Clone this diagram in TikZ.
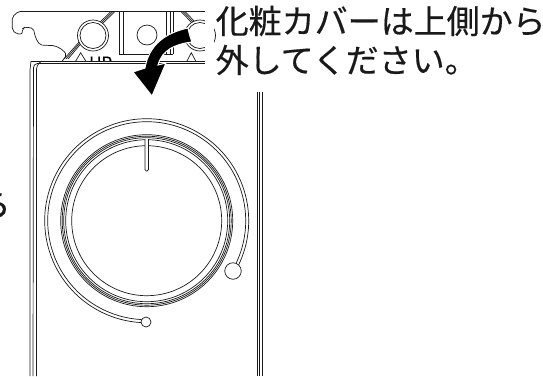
\documentclass[tikz,border=0pt]{standalone}
\usepackage{fontspec}
\setmainfont[FakeBold=0.4]{Noto Sans CJK JP}
\usetikzlibrary{calc}
\usetikzlibrary{positioning}
\begin{document}
\begin{tikzpicture}[x=1pt,y=-1pt]
\tikzstyle{thin part}=[line width=0.7pt,draw=black!90]
\tikzstyle{note}=[inner sep=0pt,anchor=west,font=\fontsize{33}{33}\selectfont,text=black!90]
\useasboundingbox (0,0) rectangle (543,376);
\draw[thin part,rounded corners=2pt] (205,11.5) -- (18.3,11.5) -- (12.3,17) -- (12.3,30) -- (16.7,34) -- (22.3,34) -- (22.3,29) -- (25,27) -- (33.3,28.3) -- (35.7,38.3) -- (40,45) -- (55,45.7) -- (63,50) -- (66.7,55) -- (62.3,61);
\foreach \s in {0,2,4} {
  \draw[thin part] (64+\s,59) -- (80+\s,41-\s/4);
  \draw[thin part] (98+\s,24) -- (111+\s,11.5);
  \draw[thin part] (181+\s,11.5) -- (193+\s,24);
}
\node[circle,thin part,fill=white,minimum size=31pt,inner sep=0pt] at(93, 35.5) (holea) {};
\node[circle,thin part,minimum size=26pt,inner sep=0pt] at(93, 35.5) (holeb) {};
\node[circle,thin part,minimum size=20pt,inner sep=0pt] at(147, 35) (holec) {};
\node[circle,thin part,fill=white,minimum size=31pt,inner sep=0pt] at(200, 35.5) (holed) {};
\node[circle,thin part,minimum size=26pt,inner sep=0pt] at(200, 35.5) (holee) {};
\foreach \x in {119,123,166,170,173} {
  \draw[thin part] (\x,11.5) -- (\x,54);
}
\draw[thin part] (119,54) -- (173,54);
\draw[thin part] (75.7,61) -- (80.7,52.7) -- (85.7,61);
\draw[thin part] (187,61) -- (191.3,52.7) -- (195.7,61);
\node[inner sep=0pt,anchor=base west,font=\fontsize{17}{17}\selectfont] at(89, 69) (uplabel) {UP};
\fill[white] (29,61) rectangle (205,95);
\draw[thin part] (31,61) -- (205,61);
\draw[thin part] (30,376) -- (30,70) -- (31,61);
\draw[thin part,rounded corners=4pt] (33,376) -- (33.5,63.5) -- (205,63.5);
\draw[thin part,rounded corners=4pt] (36.5,376) -- (36.5,65) -- (42,61);
\draw[thin part] (257,92) -- (257,376) (259.5,92) -- (259.5,376) (262,92) -- (262,376);
\foreach \r in {75,81,83,84.5,86} {
  \node[circle,thin part,minimum size=2*\r pt,inner sep=0pt] at(146.7, 220.7) {};
}
\coordinate (dial) at(146.7, 220.7);
\draw[thin part,fill=white,rounded corners=1.5pt] (145,139) -- (145,171) -- (148.5,171) -- (148.5,139);
\draw[thin part] (dial) ++(30:99) arc[start angle=30,end angle=-267,radius=99];
\draw[thin part] (dial) ++(30:102) arc[start angle=30,end angle=-267,radius=102];
\node[circle,thin part,fill=white,minimum size=16.5pt,inner sep=0pt] at(233, 271) (knob) {};
\node[circle,thin part,fill=white,minimum size=10pt,inner sep=0pt] at(146, 322) (stop) {};
\fill[white] (205,0) rectangle (214,92);
\draw[fill=black,draw=white,line width=1pt] (188,28) .. controls (165,33) and (149,45) .. (145,68) -- (133,72) -- (152,96) -- (166,63) -- (158,65) .. controls (162,50) and (175,44) .. (192,42) .. controls (190,37) and (189,33) .. (188,28) -- cycle;
\node[note] at(215.5, 21) (linea) {化粧カバーは上側から};
\node[note] at(215.5, 60) (lineb) {外してください。};
\node[note,anchor=east] at(11, 205) (cut) {ら};
\end{tikzpicture}
\end{document}
